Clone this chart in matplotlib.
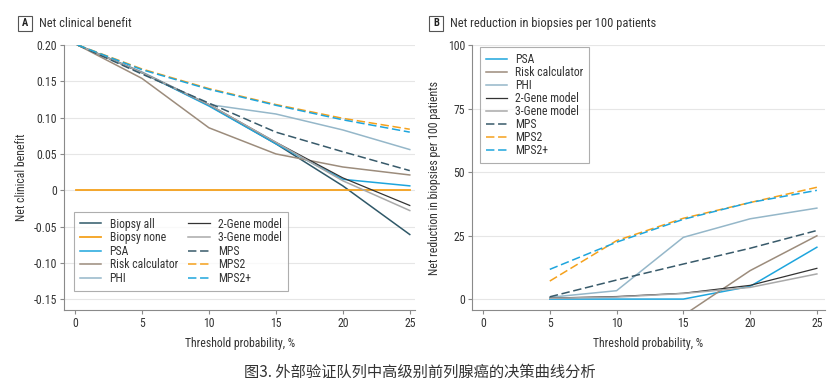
import matplotlib
matplotlib.use("Agg")
from matplotlib import pyplot as plt
from matplotlib.patches import Rectangle

plt.rcParams['font.family'] = ['Roboto Condensed', 'Liberation Sans Narrow', 'Noto Sans', 'DejaVu Sans']
plt.rcParams['font.stretch'] = 'condensed'

# Panel A: net clinical benefit
thr_a = [0.2, 5, 10, 15, 20, 25]
biopsy_all = [0.200, 0.162, 0.117, 0.064, 0.006, -0.061]
biopsy_none = [0, 0, 0, 0, 0, 0]
psa_a = [0.200, 0.162, 0.116, 0.064, 0.015, 0.006]
risk_a = [0.200, 0.154, 0.086, 0.050, 0.032, 0.021]
phi_a = [0.200, 0.163, 0.118, 0.105, 0.083, 0.056]
gene2_a = [0.200, 0.162, 0.118, 0.066, 0.017, -0.021]
gene3_a = [0.200, 0.162, 0.118, 0.066, 0.013, -0.028]
mps_a = [0.200, 0.160, 0.120, 0.080, 0.053, 0.027]
mps2_a = [0.200, 0.167, 0.140, 0.118, 0.099, 0.084]
mps2p_a = [0.200, 0.166, 0.139, 0.117, 0.097, 0.080]
yticks_a = [0.20, 0.15, 0.10, 0.05, 0, -0.05, -0.10, -0.15]
ylabels_a = ["0.20", "0.15", "0.10", "0.05", "0", "-0.05", "-0.10", "-0.15"]

# Panel B: net reduction in biopsies per 100 patients
thr_b = [5, 10, 15, 20, 25]
psa_b = [0, 0, 0, 5.0, 20.4]
risk_b = [-17, -27, -6.4, 11.2, 24.9]
phi_b = [0.7, 3.3, 24.3, 31.6, 35.8]
gene2_b = [0.4, 1.0, 2.3, 5.4, 12.1]
gene3_b = [0.3, 0.8, 2.2, 4.6, 9.9]
mps_b = [0.9, 7.5, 13.8, 20.0, 27.0]
mps2_b = [7.1, 23.0, 31.8, 38.0, 44.0]
mps2p_b = [11.7, 22.4, 31.4, 38.0, 42.8]
yticks_b = [0, 25, 50, 75, 100]

xticks = [0, 5, 10, 15, 20, 25]

c_all = "#2f5868"
c_orange = "#f5a11c"
c_blue = "#1ea5dd"
c_risk = "#9c8c7c"
c_phi = "#95b7c9"
c_gene2 = "#333333"
c_gene3 = "#a9a9a9"
c_mps = "#385a6a"
dash = (0, (5.5, 2.4))
lw = 1.1
fs = 8.5

fig = plt.figure(figsize=(8.4, 3.88), dpi=100)
ax_a = fig.add_axes([0.0762, 0.201, 0.418, 0.683])
ax_b = fig.add_axes([0.562, 0.201, 0.420, 0.683])


def style(ax):
    for s in ["top", "right"]:
        ax.spines[s].set_visible(False)
    for s in ["left", "bottom"]:
        ax.spines[s].set_color("#8a8a8a")
        ax.spines[s].set_linewidth(0.8)
    ax.tick_params(colors="#8a8a8a", labelcolor="#333333", labelsize=fs,
                   length=3, width=0.8, pad=2)
    ax.yaxis.grid(True, color="#e6e6e6", lw=0.8)
    ax.set_axisbelow(True)
    ax.set_xticks(xticks)
    ax.set_xlabel("Threshold probability, %", fontsize=fs, color="#333333", labelpad=5)


def panel_title(x_box, letter, text):
    fig.patches.append(Rectangle((x_box / 840, 1 - 31 / 388), 14 / 840, 15 / 388,
                                 transform=fig.transFigure, fill=False,
                                 edgecolor="#555555", lw=0.8))
    fig.text((x_box + 7) / 840, 1 - 23.5 / 388, letter, ha="center", va="center",
             fontsize=7.5, fontweight="bold", color="#222222")
    fig.text((x_box + 21) / 840, 1 - 23.5 / 388, text, ha="left", va="center",
             fontsize=9, color="#333333")


def legend(ax, **kw):
    leg = ax.legend(fontsize=fs, frameon=True, fancybox=False, edgecolor="#9a9a9a",
                    handlelength=1.8, handletextpad=0.7, borderpad=0.5, **kw)
    leg.get_frame().set_linewidth(0.8)
    for t in leg.get_texts():
        t.set_color("#333333")


# Panel A
style(ax_a)
ax_a.plot(thr_a, biopsy_all, color=c_all, lw=lw, label="Biopsy all")
ax_a.plot([0.05, 25], [biopsy_none[0], biopsy_none[-1]], color=c_orange, lw=1.3, label="Biopsy none")
ax_a.plot(thr_a, psa_a, color=c_blue, lw=lw, label="PSA")
ax_a.plot(thr_a, risk_a, color=c_risk, lw=lw, label="Risk calculator")
ax_a.plot(thr_a, phi_a, color=c_phi, lw=lw, label="PHI")
ax_a.plot(thr_a, gene2_a, color=c_gene2, lw=0.9, label="2-Gene model")
ax_a.plot(thr_a, gene3_a, color=c_gene3, lw=lw, label="3-Gene model")
ax_a.plot(thr_a, mps_a, color=c_mps, lw=lw, ls=dash, label="MPS")
ax_a.plot(thr_a, mps2_a, color=c_orange, lw=lw, ls=dash, label="MPS2")
ax_a.plot(thr_a, mps2p_a, color=c_blue, lw=lw, ls=dash, label="MPS2+")
ax_a.set_xlim(-0.82, 25.4)
ax_a.set_ylim(-0.165, 0.20)
ax_a.set_yticks(yticks_a)
ax_a.set_yticklabels(ylabels_a)
ax_a.set_ylabel("Net clinical benefit", fontsize=fs, color="#333333", labelpad=4)
legend(ax_a, loc="lower left", bbox_to_anchor=(0.012, 0.05), ncol=2,
       labelspacing=0.05, columnspacing=0.9)
panel_title(18, "A", "Net clinical benefit")

# Panel B
style(ax_b)
ax_b.plot(thr_b, psa_b, color=c_blue, lw=lw, label="PSA")
ax_b.plot(thr_b, risk_b, color=c_risk, lw=lw, label="Risk calculator")
ax_b.plot(thr_b, phi_b, color=c_phi, lw=lw, label="PHI")
ax_b.plot(thr_b, gene2_b, color=c_gene2, lw=0.9, label="2-Gene model")
ax_b.plot(thr_b, gene3_b, color=c_gene3, lw=lw, label="3-Gene model")
ax_b.plot(thr_b, mps_b, color=c_mps, lw=lw, ls=dash, label="MPS")
ax_b.plot(thr_b, mps2_b, color=c_orange, lw=lw, ls=dash, label="MPS2")
ax_b.plot(thr_b, mps2p_b, color=c_blue, lw=lw, ls=dash, label="MPS2+")
ax_b.set_xlim(-0.82, 25.6)
ax_b.set_ylim(-4.3, 100)
ax_b.set_yticks(yticks_b)
ax_b.set_ylabel("Net reduction in biopsies per 100 patients", fontsize=fs,
                color="#333333", labelpad=5)
legend(ax_b, loc="upper left", bbox_to_anchor=(0.015, 1.0), ncol=1,
       labelspacing=0.0, borderaxespad=0.2)
panel_title(429, "B", "Net reduction in biopsies per 100 patients")

fig.text(0.5, 1 - 372 / 388, "图3. 外部验证队列中高级别前列腺癌的决策曲线分析",
         ha="center", va="center", fontsize=11, color="#333333",
         family=["Noto Sans CJK SC", "DejaVu Sans"], stretch="normal")

fig.savefig("out.png", dpi=100)
